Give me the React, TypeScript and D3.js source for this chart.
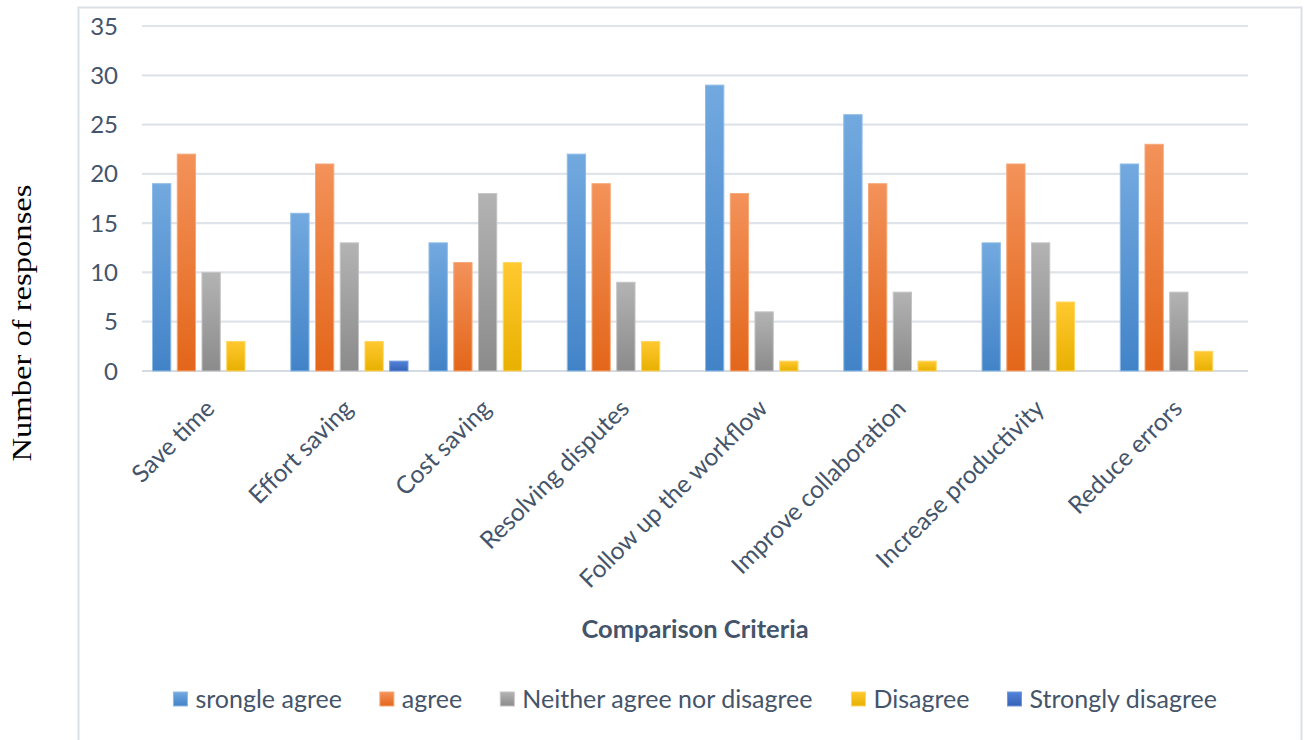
import React, { useMemo } from "react";
import * as d3 from "d3";

const categories = [
  "Save time",
  "Effort saving",
  "Cost saving",
  "Resolving disputes",
  "Follow up the workflow",
  "Improve collaboration",
  "Increase productivity",
  "Reduce errors",
];
const seriesNames = [
  "srongle agree",
  "agree",
  "Neither agree nor disagree",
  "Disagree",
  "Strongly disagree",
];
const stronglyAgree = [19, 16, 13, 22, 29, 26, 13, 21];
const agree = [22, 21, 11, 19, 18, 19, 21, 23];
const neither = [10, 13, 18, 9, 6, 8, 13, 8];
const disagree = [3, 3, 11, 3, 1, 1, 7, 2];
const stronglyDisagree = [0, 1, 0, 0, 0, 0, 0, 0];
const yTicks = [0, 5, 10, 15, 20, 25, 30, 35];

const seriesValues = [stronglyAgree, agree, neither, disagree, stronglyDisagree];
const gradTop = ["#72a9df", "#f3925a", "#b3b3b3", "#ffc930", "#5283d8"];
const gradBottom = ["#4283c8", "#e3661a", "#8b8b8b", "#e8b000", "#3562b7"];
const strokeCol = ["#8dbbe6", "#f6a777", "#c4c4c4", "#ffd660", "#7097dd"];

const W = 1304;
const H = 740;
const plot = { left: 142, right: 1248, top: 26, bottom: 371 };
const textColor = "#44546a";
const sans = "Lato, 'Open Sans', sans-serif";
const legendFontSize = 25;

function measure(text: string, font: string): number {
  const c = document.createElement("canvas");
  const ctx = c.getContext("2d");
  if (!ctx) return text.length * 12;
  ctx.font = font;
  return ctx.measureText(text).width;
}

export default function App() {
  const x0 = d3
    .scaleBand<string>()
    .domain(categories)
    .range([plot.left, plot.right])
    .paddingInner(0.145)
    .paddingOuter(0.0725);
  const x1 = d3
    .scaleBand<string>()
    .domain(seriesNames)
    .range([0, x0.bandwidth()])
    .paddingInner(0.22);
  const y = d3.scaleLinear().domain([0, 35]).range([plot.bottom, plot.top]);

  const legendItems = useMemo(() => {
    const font = `${legendFontSize}px Lato`;
    const sq = 14;
    const gapText = 8;
    const gapItem = 38;
    const widths = seriesNames.map((s) => measure(s, font));
    const total =
      widths.reduce((a, b) => a + b, 0) +
      seriesNames.length * (sq + gapText) +
      (seriesNames.length - 1) * gapItem;
    let cx = 695.5 - total / 2;
    return seriesNames.map((s, i) => {
      const item = { name: s, i, sx: cx, tx: cx + sq + gapText };
      cx += sq + gapText + widths[i] + gapItem;
      return item;
    });
  }, []);

  return (
    <svg width={W} height={H} style={{ position: "absolute", left: 0, top: 0, background: "#fff" }}>
      <defs>
        {seriesNames.map((s, i) => (
          <linearGradient key={s} id={`g${i}`} x1="0" y1="0" x2="0" y2="1">
            <stop offset="0%" stopColor={gradTop[i]} />
            <stop offset="100%" stopColor={gradBottom[i]} />
          </linearGradient>
        ))}
      </defs>
      <rect x={0} y={0} width={W} height={H} fill="#fff" />
      <rect x={78.5} y={7.5} width={1223} height={H + 10} fill="none" stroke="#dbe0e7" strokeWidth={2} />

      {yTicks.map((t) => (
        <g key={t}>
          <line
            x1={plot.left}
            x2={plot.right}
            y1={y(t)}
            y2={y(t)}
            stroke={t === 0 ? "#d6dbe3" : "#dfe4ea"}
            strokeWidth={2.2}
          />
          <text
            x={118}
            y={y(t)}
            dy="0.36em"
            textAnchor="end"
            fontFamily={sans}
            fontSize={24}
            fill={textColor}
          >
            {t}
          </text>
        </g>
      ))}

      {categories.map((c, ci) => (
        <g key={c} transform={`translate(${x0(c)},0)`}>
          {seriesNames.map((s, si) => {
            const v = seriesValues[si][ci];
            if (!v) return null;
            return (
              <rect
                key={s}
                x={x1(s)! + 0.5}
                y={y(v)}
                width={x1.bandwidth() - 1}
                height={y(0) - y(v)}
                fill={`url(#g${si})`}
                stroke={strokeCol[si]}
                strokeWidth={1}
              />
            );
          })}
        </g>
      ))}

      {categories.map((c) => {
        const cx = x0(c)! + x0.bandwidth() / 2 + 5;
        const cy = 410;
        return (
          <text
            key={c}
            transform={`translate(${cx},${cy}) rotate(-45)`}
            textAnchor="end"
            fontFamily={sans}
            fontSize={24.5}
            fill={textColor}
          >
            {c}
          </text>
        );
      })}

      <text
        x={695}
        y={638}
        textAnchor="middle"
        fontFamily={sans}
        fontSize={25.5}
        fontWeight="bold"
        fill={textColor}
      >
        Comparison Criteria
      </text>

      <text
        transform={`translate(31,323) rotate(-90)`}
        textAnchor="middle"
        fontFamily="'Liberation Serif', serif"
        fontSize={27}
        textLength={277}
        lengthAdjust="spacingAndGlyphs"
        fill="#000"
      >
        Number of responses
      </text>

      {legendItems.map((it) => (
        <g key={it.name}>
          <rect
            x={it.sx}
            y={692}
            width={14}
            height={14}
            fill={`url(#g${it.i})`}
            stroke={strokeCol[it.i]}
            strokeWidth={1}
          />
          <text x={it.tx} y={707.5} fontFamily={sans} fontSize={legendFontSize} fill={textColor}>
            {it.name}
          </text>
        </g>
      ))}
    </svg>
  );
}
